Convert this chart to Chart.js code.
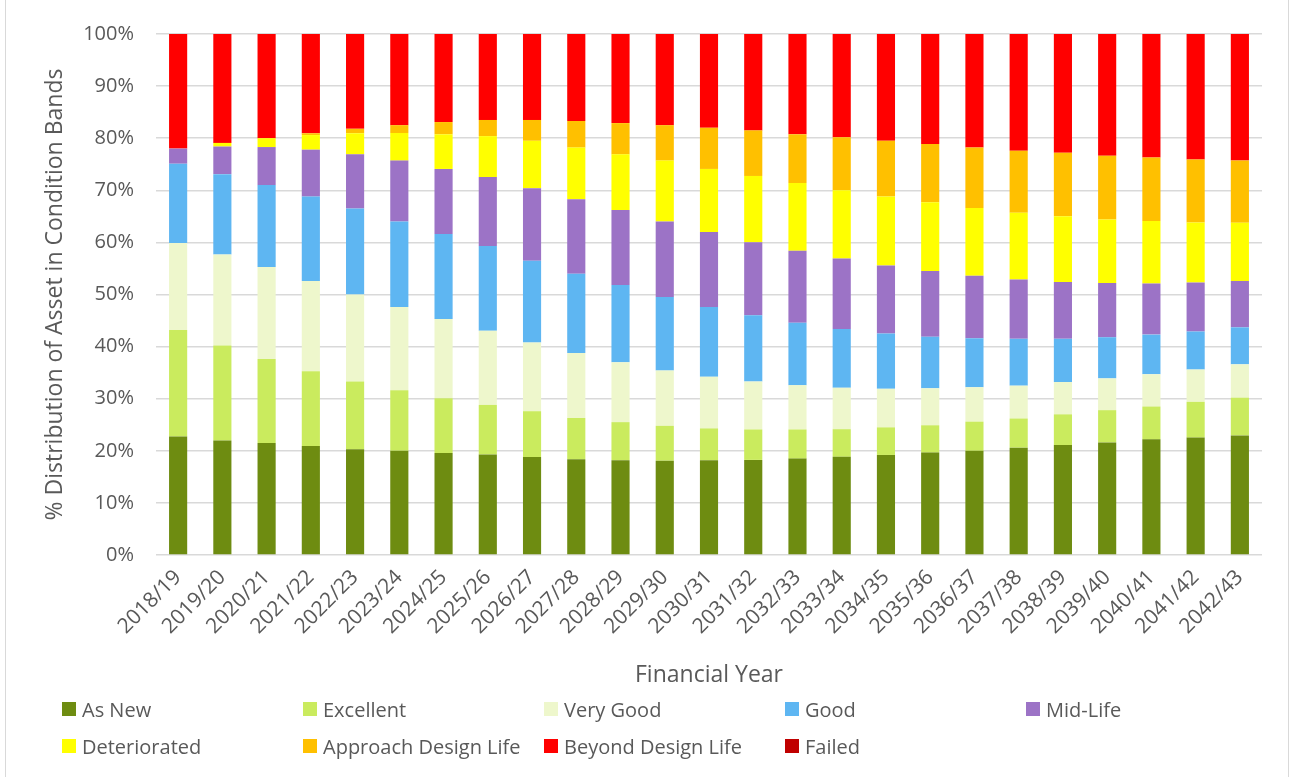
<!DOCTYPE html>
<html>
<head>
<meta charset="utf-8">
<script src="https://cdn.jsdelivr.net/npm/chart.js@4.4.1/dist/chart.umd.min.js"></script>
<style>
  body { margin: 0; background: #fff; }
  #wrap { position: relative; width: 1292px; height: 777px; }
  #frame { position: absolute; left: 5px; top: -2px; width: 1284px; height: 781px; border: 1px solid #d9d9d9; box-sizing: border-box; }
  #canvasBox { position: absolute; left: 0; top: 0; }
  #legend { position: absolute; left: 62px; top: 696px; width: 1220px; display: grid;
    grid-template-columns: repeat(5, 241px); row-gap: 11px;
    font-family: "Open Sans", sans-serif; font-size: 20px; color: #595959; }
  #legend div { display: flex; align-items: center; height: 26px; white-space: nowrap; }
  #legend span.box { width: 14px; height: 14px; margin-right: 6px; flex: none; }
</style>
</head>
<body>
<div id="wrap">
  <div id="frame"></div>
  <div id="canvasBox"><canvas id="chart" width="1292" height="777"></canvas></div>
  <div id="legend"></div>
</div>
<script>
// categories
const years = ['2018/19','2019/20','2020/21','2021/22','2022/23','2023/24','2024/25','2025/26','2026/27',
  '2027/28','2028/29','2029/30','2030/31','2031/32','2032/33','2033/34','2034/35','2035/36','2036/37',
  '2037/38','2038/39','2039/40','2040/41','2041/42','2042/43'];

// % of asset in each band
const asNew = [22.75,22.0,21.5,20.9,20.3,20.0,19.6,19.3,18.8,18.4,18.2,18.1,18.2,18.25,18.5,18.85,19.2,19.65,20.0,20.6,21.1,21.6,22.2,22.55,22.95];
const excellent = [20.45,18.2,16.1,14.35,13.0,11.6,10.5,9.5,8.8,7.9,7.3,6.7,6.1,5.85,5.6,5.3,5.3,5.25,5.6,5.6,5.9,6.2,6.3,6.85,7.25];
const veryGood = [16.7,17.5,17.7,17.35,16.7,16.0,15.2,14.25,13.2,12.45,11.5,10.6,9.9,9.2,8.5,7.95,7.4,7.1,6.6,6.3,6.2,6.1,6.2,6.2,6.4];
const good = [15.2,15.4,15.7,16.2,16.5,16.4,16.3,16.25,15.7,15.25,14.8,14.1,13.4,12.7,12.0,11.3,10.6,9.9,9.4,9.0,8.3,7.9,7.6,7.3,7.1];
const midLife = [2.9,5.3,7.3,9.0,10.4,11.7,12.5,13.25,13.9,14.3,14.4,14.5,14.4,14.05,13.8,13.5,13.05,12.6,12.0,11.4,10.9,10.4,9.8,9.4,8.9];
const deteriorated = [0,0.7,1.7,2.8,4.05,5.3,6.65,7.85,9.1,9.9,10.7,11.7,12.1,12.7,13.0,13.1,13.25,13.2,13.0,12.8,12.6,12.2,12.0,11.5,11.15];
const approachDesignLife = [0,0,0,0.35,0.85,1.5,2.35,3.1,4.0,5.1,6.0,6.8,7.9,8.75,9.35,10.2,10.7,11.2,11.6,11.9,12.2,12.25,12.2,12.1,11.95];
const beyondDesignLife = [22.0,20.9,20.0,19.05,18.2,17.5,16.9,16.5,16.5,16.7,17.1,17.5,18.0,18.5,19.25,19.8,20.5,21.1,21.8,22.4,22.8,23.35,23.7,24.1,24.3];
const failed = [0,0,0,0,0,0,0,0,0,0,0,0,0,0,0,0,0,0,0,0,0,0,0,0,0];

const yTicks = [0,10,20,30,40,50,60,70,80,90,100];

const font = '"Open Sans", sans-serif';
const grey = '#595959';

function band(label, data, color) {
  return { label: label, data: data, backgroundColor: color, borderWidth: 0,
    barPercentage: 0.41, categoryPercentage: 1.0 };
}

const chart = new Chart(document.getElementById('chart').getContext('2d'), {
  type: 'bar',
  data: {
    labels: years,
    datasets: [
      band('As New', asNew, '#6E8C11'),
      band('Excellent', excellent, '#CAEB5E'),
      band('Very Good', veryGood, '#EEF7CC'),
      band('Good', good, '#5EB6F2'),
      band('Mid-Life', midLife, '#9C73C6'),
      band('Deteriorated', deteriorated, '#FFFF00'),
      band('Approach Design Life', approachDesignLife, '#FFC000'),
      band('Beyond Design Life', beyondDesignLife, '#FF0000'),
      band('Failed', failed, '#C00000'),
    ],
  },
  options: {
    responsive: false,
    animation: false,
    layout: { padding: { left: 14, right: 30, top: 33, bottom: 87 } },
    plugins: { legend: { display: false }, tooltip: { enabled: false } },
    scales: {
      x: {
        stacked: true,
        grid: { display: false },
        border: { display: false },
        afterFit: (axis) => { axis.height = 135; },
        ticks: { color: grey, font: { family: font, size: 21 }, maxRotation: 45, minRotation: 45, autoSkip: false, padding: 2 },
        title: { display: true, text: 'Financial Year', color: grey, font: { family: font, size: 23 }, padding: { top: 0, bottom: 1 } },
      },
      y: {
        stacked: true,
        min: 0,
        max: 100,
        afterBuildTicks: (axis) => { axis.ticks = yTicks.map(v => ({ value: v })); },
        afterFit: (axis) => { axis.width = 142; },
        grid: { color: '#d9d9d9', lineWidth: 1.5, drawTicks: false },
        border: { display: false },
        ticks: { color: grey, font: { family: font, size: 20 }, padding: 22, callback: v => v + '%' },
        title: { display: true, text: '% Distribution of Asset in Condition Bands', color: grey, font: { family: font, size: 23 }, padding: { top: 28, bottom: 0 } },
      },
    },
  },
});

// legend grid under the chart, built from the datasets
const legendEl = document.getElementById('legend');
chart.data.datasets.forEach(ds => {
  const item = document.createElement('div');
  item.innerHTML = '<span class="box" style="background:' + ds.backgroundColor + '"></span>' + ds.label;
  legendEl.appendChild(item);
});
</script>
</body>
</html>
